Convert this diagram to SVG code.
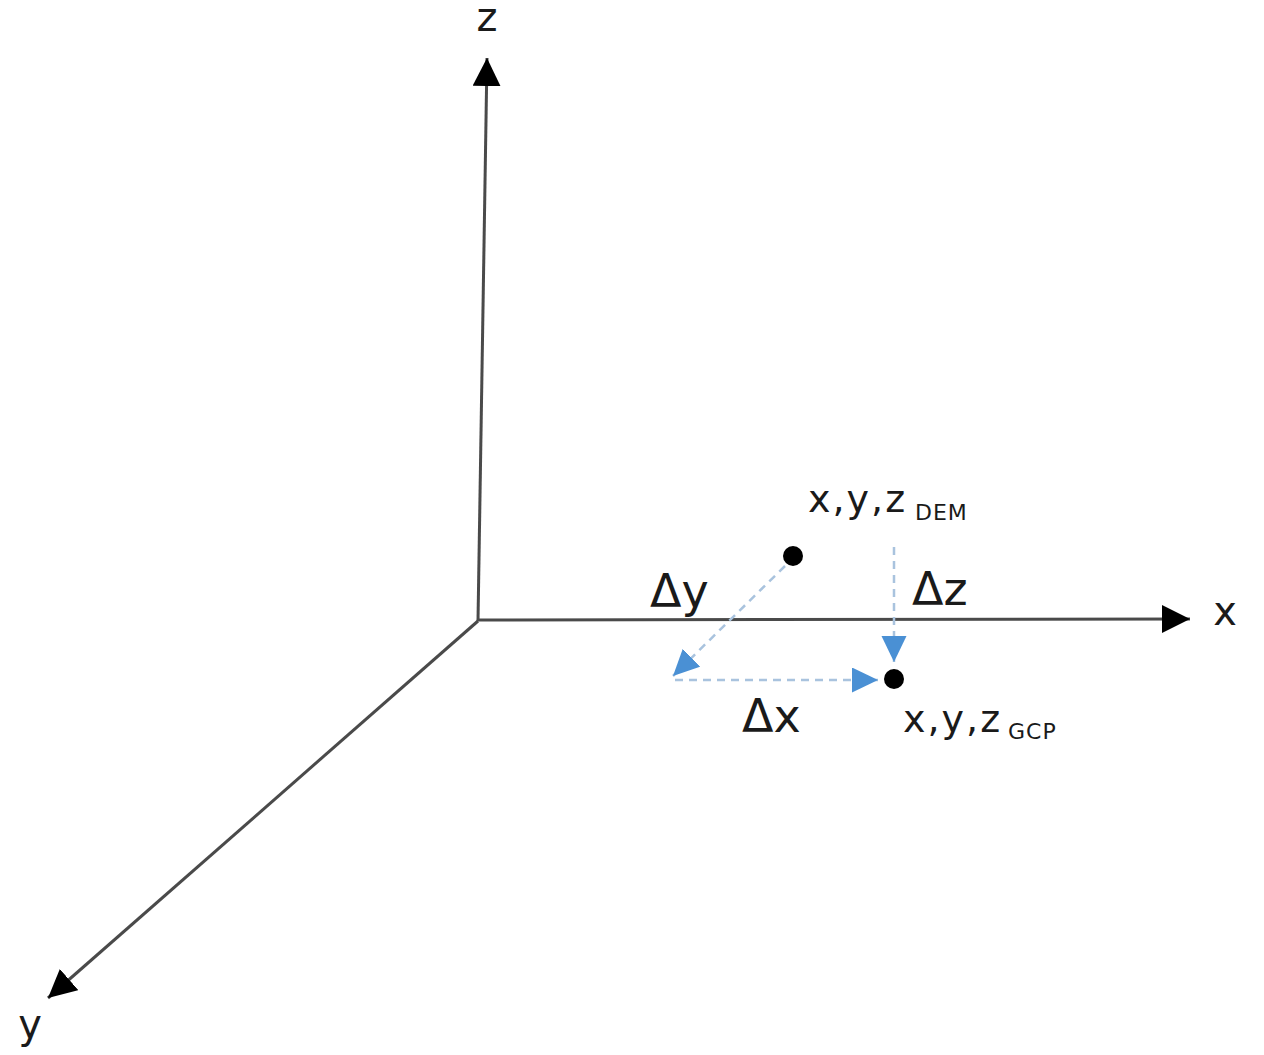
<svg xmlns="http://www.w3.org/2000/svg" width="1264" height="1055" viewBox="0 0 1264 1055">
<style>
.axis{stroke:#4a4a4a;stroke-width:3;fill:none}
.delta{stroke:#a9c3de;stroke-width:2.5;stroke-dasharray:8 6;fill:none}
.lbl{font-family:"DejaVu Sans",Verdana,sans-serif;fill:#1a1a1a}
.ax{font-size:40px}
.dl{font-size:46px}
.pt{font-size:38px;letter-spacing:2px}
.sub{font-size:22px;letter-spacing:1px}
</style>
<defs>
<marker id="blk" markerUnits="userSpaceOnUse" markerWidth="30" markerHeight="30" refX="28" refY="14" orient="auto">
<path d="M0,0 L28,14 L0,28 z" fill="#000"/>
</marker>
<marker id="blu" markerUnits="userSpaceOnUse" markerWidth="28" markerHeight="28" refX="26" refY="12.5" orient="auto">
<path d="M0,0 L26,12.5 L0,25 z" fill="#4a90d4"/>
</marker>
</defs>
<rect width="1264" height="1055" fill="#fff"/>
<g id="connectors">
<line id="z-axis" class="axis" x1="478" y1="621" x2="487" y2="58" marker-end="url(#blk)"/>
<line id="x-axis" class="axis" x1="478" y1="620" x2="1190" y2="619" marker-end="url(#blk)"/>
<line id="y-axis" class="axis" x1="478" y1="621" x2="48" y2="998" marker-end="url(#blk)"/>
<line id="dy" class="delta" x1="785" y1="566" x2="673" y2="676" marker-end="url(#blu)"/>
<line id="dx" class="delta" x1="675" y1="680" x2="878" y2="680" marker-end="url(#blu)"/>
<line id="dz" class="delta" x1="894" y1="547" x2="894" y2="662" marker-end="url(#blu)"/>
</g>
<g id="axis-labels">
<text class="lbl ax" x="487" y="31" text-anchor="middle">z</text>
<text class="lbl ax" x="1225" y="625" text-anchor="middle">x</text>
<text class="lbl ax" x="30" y="1038" text-anchor="middle">y</text>
</g>
<g id="dem-point">
<circle cx="793" cy="556" r="10" fill="#000"/>
<text class="lbl pt" x="808" y="512">x,y,z</text>
<text class="lbl sub" x="915" y="520">DEM</text>
</g>
<g id="gcp-point">
<circle cx="894" cy="679" r="10" fill="#000"/>
<text class="lbl pt" x="903" y="732">x,y,z</text>
<text class="lbl sub" x="1008" y="739">GCP</text>
</g>
<g id="delta-labels">
<text class="lbl dl" x="650" y="607">Δy</text>
<text class="lbl dl" x="912" y="605">Δz</text>
<text class="lbl dl" x="742" y="732">Δx</text>
</g>
</svg>
